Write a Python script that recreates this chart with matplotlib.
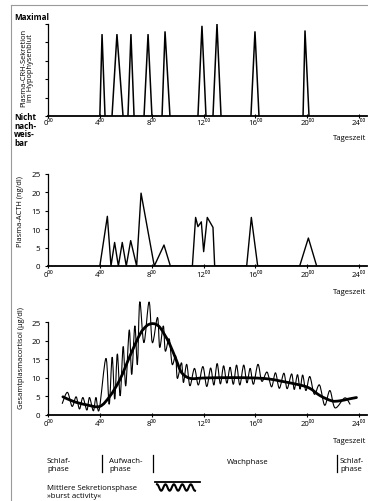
import numpy as np
import matplotlib
matplotlib.use("Agg")
import matplotlib.pyplot as plt
from matplotlib.lines import Line2D
from matplotlib.path import Path
from matplotlib.patches import PathPatch

plt.rcParams['font.family'] = ['Open Sans', 'DejaVu Sans']

# ---------------- data ----------------
hour_ticks = [0, 4, 8, 12, 16, 20, 24]
hour_labels = ["0⁰⁰", "4⁰⁰", "8⁰⁰", "12⁰⁰", "16⁰⁰", "20⁰⁰", "24⁰⁰"]

# CRH pulses (relative scale 0..100)
crh_start = [4.00, 4.94, 6.17, 7.41, 8.80, 11.57, 12.73, 15.66, 19.68]
crh_peak = [4.17, 5.32, 6.40, 7.72, 9.03, 11.88, 13.04, 15.97, 19.83]
crh_end = [4.40, 5.79, 6.64, 8.02, 9.41, 12.19, 13.35, 16.28, 20.14]
crh_height = [89, 89, 89, 89, 92, 98, 100, 92, 93]

# ACTH (ng/dl)
acth_hours = [4.00, 4.58, 4.86, 5.14, 5.43, 5.73, 6.04, 6.38, 6.84, 7.18, 8.20, 8.95, 9.44,
              11.14, 11.39, 11.57, 11.83, 12.01, 12.29, 12.73, 12.86,
              15.33, 15.69, 16.18, 19.42, 20.09, 20.73]
acth_values = [0, 13.5, 0, 6.4, 0, 6.4, 0, 6.9, 0, 19.8, 0, 5.7, 0,
               0, 13.2, 10.7, 12.0, 3.9, 13.2, 10.5, 0,
               0, 13.2, 0, 0, 7.6, 0]

# Cortisol, burst activity (µg/dl) - peaks and troughs
cort_hours = [1.10, 1.50, 1.86, 2.17, 2.43, 2.69, 3.00, 3.20, 3.50, 3.70, 3.95,
              4.47, 4.72, 4.95, 5.15, 5.35, 5.57, 5.80, 6.00, 6.27, 6.46, 6.70, 6.90,
              7.08, 7.40, 7.80, 8.05, 8.45, 8.62, 8.90, 9.05, 9.35, 9.58, 9.85, 9.98,
              10.30, 10.45, 10.70, 10.95, 11.30, 11.60, 11.95, 12.25, 12.55, 12.80,
              13.05, 13.30, 13.55, 13.80, 14.05, 14.30, 14.55, 14.80, 15.10, 15.35,
              15.60, 15.85, 16.20, 16.50, 16.90, 17.25, 17.55, 17.85, 18.20, 18.45,
              18.80, 19.00, 19.25, 19.45, 19.65, 19.90, 20.20, 20.55, 20.95, 21.35,
              21.75, 22.15, 22.90, 23.30]
cort_values = [3.0, 6.0, 2.2, 4.8, 1.5, 4.6, 1.2, 4.6, 1.0, 4.6, 1.3,
               15.2, 2.8, 15.5, 4.2, 16.4, 5.1, 18.4, 7.8, 22.9, 10.9, 24.0, 13.6,
               30.5, 19.5, 30.5, 19.5, 26.3, 18.2, 24.0, 17.2, 20.5, 13.6, 15.9, 9.8,
               14.0, 8.7, 13.6, 7.8, 12.5, 8.0, 13.0, 7.6, 12.6, 8.0,
               13.8, 8.3, 13.2, 8.5, 12.8, 8.2, 13.4, 8.0, 13.4, 8.6,
               12.5, 8.2, 13.6, 9.0, 11.5, 7.5, 11.3, 7.1, 11.2, 7.0,
               11.0, 6.8, 10.8, 6.9, 10.7, 6.5, 10.3, 5.5, 8.0, 2.5,
               6.5, 1.8, 4.5, 2.8]

# Cortisol, mean curve (µg/dl)
mean_hours = [1.15, 2.0, 3.0, 4.0, 4.78, 5.55, 6.33, 7.1, 7.6, 7.95, 8.3, 8.64, 9.0, 9.4,
              9.93, 10.3, 10.96, 12.0, 14.0, 16.0, 17.1, 17.9, 19.44, 20.2, 21.0,
              21.9, 22.5, 23.2, 23.8]
mean_values = [4.8, 3.5, 2.6, 2.2, 5.0, 9.5, 15.9, 21.8, 24.0, 24.6, 24.5, 23.6, 21.6, 19.0,
               14.5, 11.4, 9.8, 9.9, 10.0, 9.9, 9.6, 9.1, 8.0, 7.1, 5.1,
               3.7, 3.7, 4.2, 4.6]

acth_ticks = [0, 5, 10, 15, 20, 25]
cort_ticks = [0, 5, 10, 15, 20, 25]
crh_ticks = [0, 20, 40, 60, 80, 100]

# ---------------- layout helpers ----------------
W, H = 368, 502
fig = plt.figure(figsize=(W / 100, H / 100), dpi=100)

X0 = 48.0
PXH = 12.96
XMAX = 24.6


def add_ax(ytop, ybot):
    return fig.add_axes([X0 / W, 1 - ybot / H, XMAX * PXH / W, (ybot - ytop) / H])


def ftext(x, y, s, **kw):
    kw.setdefault('fontsize', 5.6)
    kw.setdefault('va', 'center')
    fig.text(x / W, 1 - y / H, s, **kw)


def style(ax, ylim, yticks, ylabels, xpad):
    ax.set_xlim(0, XMAX)
    ax.set_ylim(*ylim)
    for s in ['top', 'right']:
        ax.spines[s].set_visible(False)
    ax.spines['bottom'].set_linewidth(1.3)
    ax.spines['left'].set_linewidth(0.9)
    ax.spines['left'].set_bounds(ylim[0], ylim[1])
    ax.set_xticks(hour_ticks)
    ax.set_xticklabels(hour_labels)
    ax.set_yticks(yticks)
    if ylabels:
        ax.set_yticklabels([str(t) for t in yticks])
    else:
        ax.set_yticklabels([])
    ax.tick_params(axis='x', direction='inout', length=3.5, width=0.8, labelsize=5.6, pad=xpad)
    ax.tick_params(axis='y', direction='out', length=2.5, width=0.8, labelsize=5.8, pad=3)
    ax.patch.set_visible(False)


def smooth_line(ax, xs, ys, lw):
    """Draw a curve through the given points using cubic Bezier segments."""
    p = np.column_stack([xs, ys]).astype(float)
    n = len(p)
    verts = [p[0]]
    codes = [Path.MOVETO]
    for i in range(n - 1):
        p0 = p[i - 1] if i > 0 else p[i]
        p1, p2 = p[i], p[i + 1]
        p3 = p[i + 2] if i + 2 < n else p[i + 1]
        c1 = p1 + (p2 - p0) / 6.0
        c2 = p2 - (p3 - p1) / 6.0
        verts += [c1, c2, p2]
        codes += [Path.CURVE4] * 3
    patch = PathPatch(Path(verts, codes), facecolor='none', edgecolor='black', lw=lw,
                      clip_on=False, capstyle='round', joinstyle='round')
    ax.add_patch(patch)


# ---------------- panel 1: CRH ----------------
ax1 = add_ax(25, 117)
style(ax1, (0, 100), crh_ticks, False, 0.5)
for s, p, e, h in zip(crh_start, crh_peak, crh_end, crh_height):
    ax1.plot([s, p, e], [0, h, 0], color='black', lw=1.1, solid_joinstyle='miter')
ftext(14, 17, "Maximal", fontweight='bold', fontsize=5.8)
for i, t in enumerate(["Nicht", "nach-", "weis-", "bar"]):
    ftext(14, 118 + i * 8.4, t, fontweight='bold', fontsize=5.8)
ftext(27, 68, "Plasma-CRH-Sekretion\nim Hypophysenblut", rotation=90, ha='center',
      fontsize=5.4, linespacing=1.0)
ftext(333, 139, "Tageszeit", ha='left')

# ---------------- panel 2: ACTH ----------------
ax2 = add_ax(175, 267)
style(ax2, (0, 25), acth_ticks, True, 1.5)
ax2.plot(acth_hours, acth_values, color='black', lw=1.0)
ftext(21, 212, "Plasma-ACTH (ng/dl)", rotation=90, ha='center', fontsize=5.4)
ftext(333, 292, "Tageszeit", ha='left')

# ---------------- panel 3: Cortisol ----------------
ax3 = add_ax(323.3, 415.5)
style(ax3, (0, 25), cort_ticks, True, 2.5)
smooth_line(ax3, cort_hours, cort_values, 0.8)
smooth_line(ax3, mean_hours, mean_values, 2.0)
ftext(22, 358, "Gesamtplasmacortisol (µg/dl)", rotation=90, ha='center', fontsize=5.4)
ftext(333, 442, "Tageszeit", ha='left')

# ---------------- phase annotations ----------------
ftext(47, 462, "Schlaf-", ha='left')
ftext(47, 470, "phase", ha='left')
ftext(109, 462, "Aufwach-", ha='left')
ftext(109, 470, "phase", ha='left')
ftext(227, 463, "Wachphase", ha='left')
ftext(340, 462, "Schlaf-", ha='left')
ftext(340, 470, "phase", ha='left')
for xb in (102, 153, 337):
    fig.add_artist(Line2D([xb / W, xb / W], [1 - 456 / H, 1 - 473 / H],
                          transform=fig.transFigure, color='black', lw=0.9))

ftext(47, 489, "Mittlere Sekretionsphase", ha='left')
ftext(47, 497, "»burst activity«", ha='left')
# legend glyph: bar with wave
fig.add_artist(Line2D([155 / W, 200 / W], [1 - 482.5 / H, 1 - 482.5 / H],
                      transform=fig.transFigure, color='black', lw=1.3))
gx = np.linspace(157, 195, 120)
gy = 488.5 - 3.2 * np.cos((gx - 157) / (195 - 157) * 4.5 * 2 * np.pi)
fig.add_artist(Line2D(gx / W, 1 - gy / H, transform=fig.transFigure, color='black', lw=1.5))

# frame lines of scanned page
fig.add_artist(Line2D([11 / W, 11 / W], [0, 1 - 6 / H], transform=fig.transFigure,
                      color='#9a9a9a', lw=0.8))
fig.add_artist(Line2D([11 / W, 1], [1 - 6 / H, 1 - 6 / H], transform=fig.transFigure,
                      color='#9a9a9a', lw=0.8))

fig.savefig("out.png", dpi=100)
